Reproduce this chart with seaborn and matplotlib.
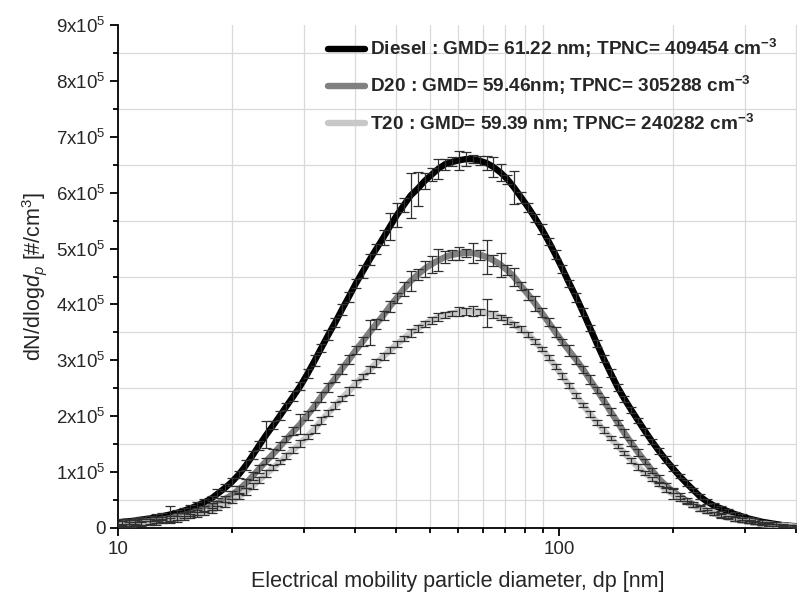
import numpy as np
import pandas as pd
import matplotlib
matplotlib.use("Agg")
import matplotlib.pyplot as plt
from matplotlib.lines import Line2D
from matplotlib.ticker import FixedLocator, FixedFormatter, NullFormatter
import seaborn as sns

# ---------------- data (dN/dlogdp in units of 1e5 #/cm3) ----------------
dp_nm = [10.2, 10.6, 10.9, 11.3, 11.8, 12.2, 12.6, 13.1, 13.6, 14.1, 14.6, 15.1, 15.7, 16.3,
         16.8, 17.5, 18.1, 18.8, 19.5, 20.2, 20.9, 21.7, 22.5, 23.3, 24.1, 25.0, 25.9, 26.9,
         27.9, 28.9, 30.0, 31.1, 32.2, 33.4, 34.6, 35.9, 37.2, 38.5, 40.0, 41.4, 42.9, 44.5,
         46.1, 47.8, 49.6, 51.4, 53.3, 55.2, 57.3, 59.4, 61.5, 63.8, 66.1, 68.5, 71.0, 73.7,
         76.4, 79.1, 82.0, 85.1, 88.2, 91.4, 94.7, 98.2, 101.8, 105.5, 109.4, 113.4, 117.6,
         121.9, 126.3, 131.0, 135.8, 140.7, 145.9, 151.2, 156.8, 162.5, 168.5, 174.7, 181.1,
         187.7, 194.6, 201.7, 209.1, 216.7, 224.7, 232.9, 241.4, 250.3, 259.5, 269.0, 278.8,
         289.0, 299.6, 310.6, 322.0, 333.8, 346.0]

diesel = [0.11, 0.12, 0.13, 0.15, 0.17, 0.19, 0.21, 0.24, 0.27, 0.31, 0.35, 0.40, 0.46, 0.53,
          0.61, 0.72, 0.82, 0.96, 1.12, 1.30, 1.48, 1.67, 1.84, 2.01, 2.18, 2.36, 2.54, 2.76,
          2.99, 3.22, 3.46, 3.68, 3.91, 4.14, 4.37, 4.59, 4.80, 4.99, 5.20, 5.40, 5.60, 5.78,
          5.95, 6.07, 6.21, 6.32, 6.43, 6.51, 6.55, 6.58, 6.60, 6.60, 6.57, 6.53, 6.46, 6.36,
          6.24, 6.09, 5.92, 5.74, 5.55, 5.35, 5.13, 4.89, 4.64, 4.38, 4.13, 3.86, 3.58, 3.30,
          3.03, 2.77, 2.52, 2.31, 2.11, 1.92, 1.73, 1.55, 1.38, 1.22, 1.07, 0.93, 0.80, 0.68,
          0.56, 0.47, 0.40, 0.35, 0.30, 0.25, 0.21, 0.17, 0.14, 0.11, 0.09, 0.07, 0.05, 0.04, 0.03]

d20 = [0.08, 0.09, 0.10, 0.11, 0.12, 0.14, 0.15, 0.17, 0.20, 0.23, 0.26, 0.29, 0.34, 0.39,
       0.44, 0.52, 0.59, 0.69, 0.80, 0.93, 1.06, 1.20, 1.33, 1.46, 1.59, 1.73, 1.86, 2.02,
       2.18, 2.35, 2.52, 2.68, 2.85, 3.01, 3.18, 3.34, 3.50, 3.65, 3.81, 3.97, 4.12, 4.28,
       4.42, 4.53, 4.64, 4.72, 4.79, 4.85, 4.89, 4.91, 4.92, 4.92, 4.89, 4.85, 4.79, 4.71,
       4.61, 4.49, 4.33, 4.18, 4.02, 3.85, 3.68, 3.50, 3.33, 3.17, 3.01, 2.84, 2.65, 2.47,
       2.28, 2.08, 1.89, 1.70, 1.52, 1.35, 1.19, 1.03, 0.88, 0.76, 0.66, 0.57, 0.49, 0.42,
       0.36, 0.31, 0.26, 0.22, 0.19, 0.16, 0.14, 0.12, 0.10, 0.08, 0.06, 0.05, 0.04, 0.03, 0.02]

t20 = [0.05, 0.06, 0.07, 0.08, 0.09, 0.10, 0.12, 0.14, 0.16, 0.18, 0.21, 0.24, 0.27, 0.31,
       0.36, 0.42, 0.48, 0.56, 0.65, 0.75, 0.86, 0.97, 1.08, 1.18, 1.29, 1.40, 1.51, 1.64,
       1.77, 1.92, 2.06, 2.19, 2.32, 2.45, 2.58, 2.71, 2.83, 2.95, 3.07, 3.18, 3.29, 3.39,
       3.49, 3.57, 3.65, 3.71, 3.77, 3.81, 3.84, 3.87, 3.88, 3.88, 3.87, 3.85, 3.82, 3.77,
       3.71, 3.64, 3.56, 3.46, 3.34, 3.20, 3.05, 2.89, 2.72, 2.55, 2.37, 2.20, 2.04, 1.89,
       1.75, 1.61, 1.47, 1.34, 1.21, 1.09, 0.98, 0.88, 0.78, 0.69, 0.61, 0.53, 0.46, 0.40,
       0.35, 0.30, 0.26, 0.22, 0.19, 0.16, 0.13, 0.11, 0.09, 0.07, 0.06, 0.05, 0.04, 0.03, 0.02]

diesel_err = [0.05, 0.04, 0.05, 0.04, 0.05, 0.06, 0.05, 0.15, 0.06, 0.05, 0.06, 0.07, 0.06, 0.05,
              0.08, 0.06, 0.07, 0.06, 0.09, 0.07, 0.08, 0.24, 0.07, 0.08, 0.06, 0.09, 0.07, 0.08,
              0.10, 0.07, 0.09, 0.08, 0.10, 0.09, 0.08, 0.11, 0.10, 0.09, 0.13, 0.24, 0.22, 0.12,
              0.40, 0.30, 0.15, 0.12, 0.18, 0.10, 0.08, 0.17, 0.13, 0.07, 0.08, 0.13, 0.18, 0.16,
              0.08, 0.29, 0.10, 0.08, 0.07, 0.09, 0.06, 0.08, 0.07, 0.06, 0.08, 0.07, 0.06, 0.07,
              0.06, 0.07, 0.06, 0.05, 0.06, 0.05, 0.06, 0.05, 0.05, 0.06, 0.05, 0.04, 0.05, 0.04,
              0.05, 0.04, 0.04, 0.05, 0.04, 0.03, 0.04, 0.03, 0.03, 0.03, 0.02, 0.03, 0.02, 0.02, 0.02]

d20_err = [0.04, 0.05, 0.04, 0.05, 0.04, 0.05, 0.04, 0.05, 0.06, 0.05, 0.05, 0.06, 0.05, 0.06,
           0.05, 0.06, 0.07, 0.06, 0.08, 0.07, 0.07, 0.06, 0.08, 0.07, 0.06, 0.07, 0.18, 0.08,
           0.07, 0.09, 0.08, 0.07, 0.09, 0.08, 0.07, 0.08, 0.23, 0.09, 0.08, 0.10, 0.09, 0.12,
           0.18, 0.10, 0.14, 0.15, 0.20, 0.10, 0.09, 0.12, 0.08, 0.18, 0.09, 0.30, 0.10, 0.21,
           0.09, 0.16, 0.08, 0.10, 0.14, 0.08, 0.07, 0.09, 0.06, 0.10, 0.07, 0.06, 0.08, 0.06,
           0.07, 0.06, 0.05, 0.07, 0.05, 0.06, 0.05, 0.05, 0.06, 0.05, 0.04, 0.05, 0.04, 0.04,
           0.05, 0.04, 0.03, 0.04, 0.03, 0.03, 0.04, 0.03, 0.03, 0.02, 0.03, 0.02, 0.02, 0.02, 0.02]

t20_err = [0.03, 0.04, 0.03, 0.04, 0.03, 0.04, 0.03, 0.04, 0.05, 0.04, 0.04, 0.05, 0.04, 0.05,
           0.04, 0.05, 0.04, 0.05, 0.06, 0.05, 0.05, 0.06, 0.05, 0.04, 0.06, 0.05, 0.06, 0.05,
           0.07, 0.06, 0.05, 0.06, 0.05, 0.07, 0.06, 0.05, 0.06, 0.07, 0.06, 0.05, 0.06, 0.05,
           0.07, 0.06, 0.05, 0.06, 0.07, 0.06, 0.05, 0.08, 0.06, 0.09, 0.05, 0.25, 0.06, 0.05,
           0.06, 0.05, 0.06, 0.05, 0.05, 0.04, 0.05, 0.04, 0.05, 0.04, 0.05, 0.04, 0.05, 0.04,
           0.05, 0.04, 0.04, 0.04, 0.04, 0.05, 0.04, 0.04, 0.03, 0.04, 0.10, 0.04, 0.03, 0.03,
           0.04, 0.03, 0.03, 0.03, 0.02, 0.03, 0.02, 0.02, 0.02, 0.02, 0.02, 0.02, 0.02, 0.02, 0.02]

series_names = ["Diesel", "D20", "T20"]
series_labels = [
    "Diesel : GMD= 61.22 nm; TPNC= 409454 cm$^{-3}$",
    "D20 : GMD= 59.46nm; TPNC= 305288 cm$^{-3}$",
    "T20 : GMD= 59.39 nm; TPNC= 240282 cm$^{-3}$",
]
series_colors = {"Diesel": "#000000", "D20": "#808080", "T20": "#c8c8c8"}

y_major = [0, 1, 2, 3, 4, 5, 6, 7, 8, 9]
y_major_labels = ["0"] + [f"{k}x10$^{{5}}$" for k in y_major[1:]]
x_major = [10, 100]
x_major_labels = ["10", "100"]

# ---------------- style ----------------
sns.set_style("white")
plt.rcParams["font.family"] = ["Liberation Sans", "DejaVu Sans"]
plt.rcParams["mathtext.fontset"] = "custom"
plt.rcParams["mathtext.rm"] = "Liberation Sans"
plt.rcParams["mathtext.it"] = "Liberation Sans:italic"
plt.rcParams["mathtext.bf"] = "Liberation Sans:bold"
plt.rcParams["mathtext.default"] = "regular"

vals = {"Diesel": diesel, "D20": d20, "T20": t20}
errs = {"Diesel": diesel_err, "D20": d20_err, "T20": t20_err}
rows = []
for name in series_names:
    for d, v, e in zip(dp_nm, vals[name], errs[name]):
        rows.append({"dp": d, "value": v * 1e5, "err": e * 1e5, "fuel": name})
df = pd.DataFrame(rows)

fig = plt.figure(figsize=(7.97, 6.06), dpi=100)
ax = fig.add_axes([118 / 797, 78 / 606, 679 / 797, 503 / 606])
ax.set_xscale("log")

for name in series_names:
    sub = df[df["fuel"] == name]
    sns.lineplot(data=sub, x="dp", y="value", color=series_colors[name],
                 linewidth=4.6, ax=ax, legend=False, zorder=3, solid_capstyle="round")
    ax.errorbar(sub["dp"], sub["value"], yerr=sub["err"], fmt="none",
                ecolor="#303030", elinewidth=0.9, capsize=3.5, capthick=0.9, zorder=4)

ax.set_xlim(10, 346.5)
ax.set_ylim(0, 9e5)

# Origin-style linear minor ticks on log axis
x_minor = [10 + 90 / 11 * k for k in range(1, 11)] + [100 + 900 / 11 * k for k in range(1, 4)]
ax.xaxis.set_major_locator(FixedLocator(x_major))
ax.xaxis.set_major_formatter(FixedFormatter(x_major_labels))
ax.xaxis.set_minor_locator(FixedLocator(x_minor))
ax.xaxis.set_minor_formatter(NullFormatter())
ax.yaxis.set_major_locator(FixedLocator([v * 1e5 for v in y_major]))
ax.yaxis.set_major_formatter(FixedFormatter(y_major_labels))
ax.yaxis.set_minor_locator(FixedLocator([(v + 0.5) * 1e5 for v in y_major[:-1]]))

ax.grid(False)
ax.grid(which="minor", color="#d9d9d9", linewidth=0.9, zorder=0)
ax.set_axisbelow(True)

for s in ["top", "right"]:
    ax.spines[s].set_visible(False)
for s in ["left", "bottom"]:
    ax.spines[s].set_color("black")
    ax.spines[s].set_linewidth(1.3)

ax.tick_params(which="both", bottom=True, left=True, top=False, right=False)
ax.tick_params(which="major", direction="out", length=6, width=1.3, color="black",
               labelsize=13.5, pad=3)
ax.tick_params(which="minor", direction="out", length=3.5, width=1.3, color="black")

ax.set_xlabel("Electrical mobility particle diameter, dp [nm]", fontsize=15.5)
ax.set_ylabel(r"dN/dlog$\mathit{d}_{\mathit{p}}$ [#/cm$^{3}$]", fontsize=15.5)
ax.xaxis.set_label_coords(0.5, -0.085)
ax.yaxis.set_label_coords(-0.102, 0.5)

handles = [Line2D([0], [0], color=series_colors[n], lw=4.6, solid_capstyle="round")
           for n in series_names]
ax.legend(handles, series_labels, loc="upper left", bbox_to_anchor=(0.309, 0.976),
          frameon=False, prop={"family": "Liberation Sans", "weight": "bold", "size": 13.7},
          handlelength=1.95, handletextpad=0.28, labelspacing=0.74, borderpad=0,
          borderaxespad=0)

fig.savefig("out.png", dpi=100)
